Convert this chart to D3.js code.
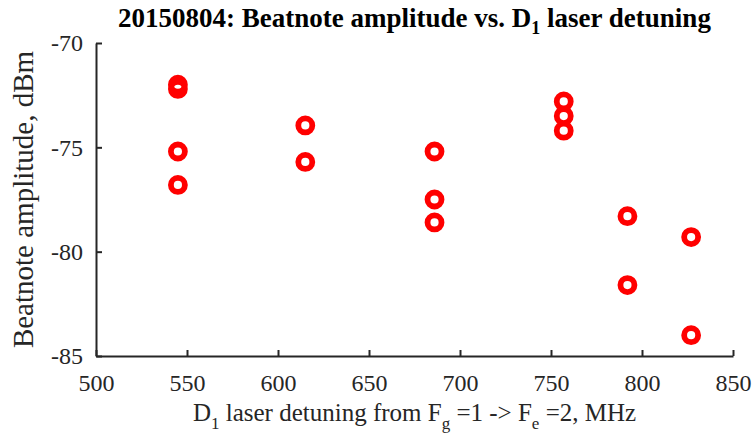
<!DOCTYPE html>
<html><head><meta charset="utf-8">
<script src="https://cdn.jsdelivr.net/npm/d3@7"></script>
<style>body{margin:0;background:#fff}svg{display:block}</style>
</head><body>
<script>
const detuning = [545, 545, 545, 545, 615, 615, 686, 686, 686, 757, 757, 757, 792, 792, 827, 827];
const amplitude = [-72.0, -72.2, -75.2, -76.8, -73.95, -75.7, -75.2, -77.5, -78.6, -72.8, -73.5, -74.2, -78.3, -81.6, -79.3, -84.0];
const xTicks = [500, 550, 600, 650, 700, 750, 800, 850];
const yTicks = [-85, -80, -75, -70];

const W = 754, H = 444;
const m = {l: 96, r: 21, t: 43, b: 88};
const svg = d3.select("body").append("svg").attr("width", W).attr("height", H);
const x = d3.scaleLinear().domain([500, 850]).range([m.l, W - m.r]);
const y = d3.scaleLinear().domain([-85, -70]).range([H - m.b, m.t]);
const font = "'Liberation Serif', 'Times New Roman', serif";
const ink = "#262626";

const gx = svg.append("g").attr("transform", `translate(0,${H - m.b})`)
  .call(d3.axisBottom(x).tickValues(xTicks).tickSizeInner(-6).tickSizeOuter(0).tickPadding(18));
const gy = svg.append("g").attr("transform", `translate(${m.l},0)`)
  .call(d3.axisLeft(y).tickValues(yTicks).tickSizeInner(-6).tickSizeOuter(0).tickFormat(d3.format("d")).tickPadding(13));
[gx, gy].forEach(g => {
  g.select(".domain").attr("stroke", ink).attr("stroke-width", 2);
  g.selectAll(".tick line").attr("stroke", ink).attr("stroke-width", 2);
  g.selectAll(".tick text").attr("fill", ink).style("font-family", font).style("font-size", "24px");
});
gy.selectAll(".tick text").text(d => d3.format("d")(d).replace("−", "-"));

svg.append("g").selectAll("circle").data(detuning).join("circle")
  .attr("cx", (d) => x(d)).attr("cy", (d, i) => y(amplitude[i]))
  .attr("r", 7).attr("fill", "none").attr("stroke", "#ff0000").attr("stroke-width", 5.8);

// title
const t = svg.append("text").attr("x", x(675)).attr("y", 27).attr("text-anchor", "middle")
  .style("font-family", font).style("font-size", "27px").style("font-weight", "bold").attr("fill", "#000");
t.append("tspan").text("20150804: Beatnote amplitude vs. D");
t.append("tspan").attr("dy", 7).style("font-size", "18px").text("1");
t.append("tspan").attr("dy", -7).text(" laser detuning");

// x label
const xl = svg.append("text").attr("x", x(675)).attr("y", 421).attr("text-anchor", "middle")
  .style("font-family", font).style("font-size", "25px").attr("fill", ink);
xl.append("tspan").text("D");
xl.append("tspan").attr("dy", 8).style("font-size", "17px").text("1");
xl.append("tspan").attr("dy", -8).text(" laser detuning from F");
xl.append("tspan").attr("dy", 8).style("font-size", "17px").text("g");
xl.append("tspan").attr("dy", -8).text(" =1 -> F");
xl.append("tspan").attr("dy", 8).style("font-size", "17px").text("e");
xl.append("tspan").attr("dy", -8).text(" =2, MHz");

// y label
svg.append("text").attr("transform", `translate(33,${y(-77.5)}) rotate(-90)`).attr("text-anchor", "middle")
  .style("font-family", font).style("font-size", "29px").attr("fill", ink)
  .text("Beatnote amplitude, dBm");
</script>
</body></html>
